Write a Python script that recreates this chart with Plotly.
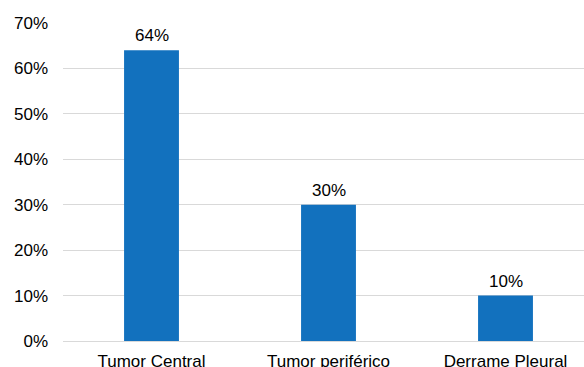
import plotly.graph_objects as go

categories = ["Tumor Central", "Tumor periférico", "Derrame Pleural"]
values = [64, 30, 10]
y_ticks = [0, 10, 20, 30, 40, 50, 60, 70]
y_tick_labels = [f"{v}%" for v in y_ticks]

bar_color = "#1271BE"
font_family = "Liberation Sans, Arial, sans-serif"
font_size = 17

fig = go.Figure(
    go.Bar(
        x=categories,
        y=values,
        width=0.31,
        marker=dict(color=bar_color, line=dict(width=0)),
        hoverinfo="skip",
    )
)

# value labels above each bar
for cat, val in zip(categories, values):
    fig.add_annotation(
        x=cat,
        y=val,
        text=f"{val}%",
        showarrow=False,
        yanchor="bottom",
        yshift=3,
        font=dict(size=font_size, color="#000000", family=font_family),
    )

fig.update_layout(
    width=584,
    height=367,
    margin=dict(l=63, r=0, t=23, b=26, autoexpand=False),
    paper_bgcolor="white",
    plot_bgcolor="white",
    showlegend=False,
    font=dict(family=font_family, size=font_size, color="#000000"),
)

fig.update_xaxes(
    range=[-0.5, 2.4435],
    showgrid=False,
    showline=False,
    ticks="",
    ticklabelstandoff=8,
    tickfont=dict(size=font_size, color="#000000"),
    automargin=False,
)

fig.update_yaxes(
    range=[0, 70],
    tickvals=y_ticks,
    ticktext=y_tick_labels,
    showgrid=True,
    gridcolor="#D9D9D9",
    gridwidth=1,
    zeroline=True,
    zerolinecolor="#D9D9D9",
    zerolinewidth=1,
    showline=False,
    ticks="",
    ticklabelstandoff=14,
    tickfont=dict(size=font_size, color="#000000"),
    automargin=False,
)

fig.write_html("out.html")
